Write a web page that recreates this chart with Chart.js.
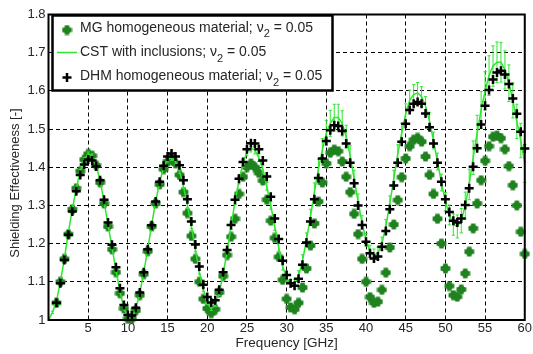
<!DOCTYPE html>
<html>
<head>
<meta charset="utf-8">
<script src="https://cdn.jsdelivr.net/npm/chart.js@4.4.1/dist/chart.umd.min.js"></script>
<style>
  html, body { margin: 0; padding: 0; background: #fff; }
  #wrap { width: 533px; height: 354px; }
</style>
</head>
<body>
<div id="wrap"><canvas id="chart" width="533" height="354"></canvas></div>
<script>
// frequency grid [GHz]
const freq = [
  0, 0.5, 1, 1.5, 2, 2.5, 3, 3.5, 4, 4.5, 5, 5.5, 6, 6.5, 7, 7.5, 8, 8.5, 9, 9.5, 10,
  10.5, 11, 11.5, 12, 12.5, 13, 13.5, 14, 14.5, 15, 15.5, 16, 16.5, 17, 17.5, 18, 18.5, 19, 19.5, 20,
  20.5, 21, 21.5, 22, 22.5, 23, 23.5, 24, 24.5, 25, 25.5, 26, 26.5, 27, 27.5, 28, 28.5, 29, 29.5, 30,
  30.5, 31, 31.5, 32, 32.5, 33, 33.5, 34, 34.5, 35, 35.5, 36, 36.5, 37, 37.5, 38, 38.5, 39, 39.5, 40,
  40.5, 41, 41.5, 42, 42.5, 43, 43.5, 44, 44.5, 45, 45.5, 46, 46.5, 47, 47.5, 48, 48.5, 49, 49.5, 50,
  50.5, 51, 51.5, 52, 52.5, 53, 53.5, 54, 54.5, 55, 55.5, 56, 56.5, 57, 57.5, 58, 58.5, 59, 59.5, 60
];

// MG homogeneous material
const mgSE = [
  null, null, 1.045, 1.100, 1.160, 1.225, 1.290, 1.345, 1.390, 1.420, 1.435, 1.430, 1.405, 1.360, 1.305, 1.245, 1.185, 1.125, 1.070, 1.030, 1.003,
  1.003, 1.025, 1.065, 1.120, 1.180, 1.245, 1.305, 1.355, 1.395, 1.415, 1.420, 1.410, 1.380, 1.335, 1.280, 1.220, 1.160, 1.100, 1.055, 1.030,
  1.018, 1.028, 1.072, 1.115, 1.170, 1.218, 1.265, 1.330, 1.375, 1.400, 1.410, 1.400, 1.385, 1.365, 1.315, 1.260, 1.215, 1.165, 1.105, 1.055,
  1.033, 1.028, 1.045, 1.085, 1.135, 1.195, 1.253, 1.310, 1.360, 1.410, 1.438, 1.446, 1.442, 1.415, 1.375, 1.335, 1.278, 1.225, 1.160, 1.100,
  1.060, 1.045, 1.048, 1.079, 1.124, 1.190, 1.250, 1.314, 1.374, 1.423, 1.455, 1.472, 1.477, 1.467, 1.428, 1.380, 1.330, 1.265, 1.200, 1.135,
  1.089, 1.065, 1.061, 1.080, 1.122, 1.179, 1.240, 1.305, 1.366, 1.417, 1.455, 1.480, 1.483, 1.476, 1.447, 1.403, 1.353, 1.300, 1.231, 1.173
];

// CST with inclusions (mean and error)
const cstSE = [
  1.000, 1.020, 1.050, 1.100, 1.160, 1.230, 1.290, 1.345, 1.390, 1.420, 1.435, 1.430, 1.405, 1.365, 1.310, 1.250, 1.190, 1.130, 1.075, 1.030, 1.005,
  1.005, 1.030, 1.070, 1.125, 1.185, 1.250, 1.310, 1.360, 1.400, 1.420, 1.425, 1.415, 1.390, 1.350, 1.300, 1.245, 1.185, 1.125, 1.080, 1.045,
  1.030, 1.040, 1.070, 1.120, 1.180, 1.245, 1.310, 1.365, 1.410, 1.440, 1.450, 1.445, 1.425, 1.395, 1.350, 1.300, 1.245, 1.190, 1.140, 1.110,
  1.095, 1.095, 1.115, 1.155, 1.210, 1.270, 1.335, 1.395, 1.445, 1.490, 1.515, 1.530, 1.530, 1.515, 1.480, 1.430, 1.370, 1.310, 1.255, 1.210,
  1.180, 1.170, 1.175, 1.200, 1.245, 1.305, 1.370, 1.435, 1.490, 1.540, 1.575, 1.590, 1.595, 1.585, 1.560, 1.520, 1.470, 1.415, 1.360, 1.310,
  1.275, 1.250, 1.245, 1.260, 1.300, 1.355, 1.425, 1.490, 1.550, 1.600, 1.640, 1.665, 1.675, 1.675, 1.655, 1.620, 1.575, 1.520, 1.470, 1.410
];
const cstErr = [
  0, 0.003, 0.003, 0.003, 0.004, 0.004, 0.004, 0.004, 0.004, 0.005, 0.005, 0.005, 0.005, 0.004, 0.004, 0.004, 0.004, 0.004, 0.004, 0.003, 0.003,
  0.003, 0.004, 0.004, 0.005, 0.005, 0.006, 0.006, 0.006, 0.006, 0.006, 0.007, 0.007, 0.006, 0.006, 0.006, 0.006, 0.006, 0.005, 0.005, 0.005,
  0.005, 0.005, 0.006, 0.006, 0.007, 0.008, 0.008, 0.009, 0.010, 0.010, 0.010, 0.010, 0.010, 0.010, 0.010, 0.010, 0.010, 0.010, 0.009, 0.009,
  0.010, 0.012, 0.014, 0.016, 0.018, 0.020, 0.024, 0.026, 0.030, 0.032, 0.034, 0.035, 0.035, 0.033, 0.030, 0.026, 0.022, 0.020, 0.018, 0.017,
  0.016, 0.016, 0.016, 0.017, 0.018, 0.020, 0.022, 0.024, 0.025, 0.026, 0.027, 0.027, 0.027, 0.026, 0.025, 0.024, 0.022, 0.022, 0.022, 0.024,
  0.026, 0.028, 0.030, 0.032, 0.035, 0.040, 0.044, 0.046, 0.048, 0.050, 0.052, 0.053, 0.053, 0.052, 0.050, 0.048, 0.046, 0.045, 0.045, 0.050
];

// DHM homogeneous material
const dhmSE = [
  null, null, 1.045, 1.096, 1.157, 1.223, 1.284, 1.337, 1.380, 1.407, 1.420, 1.418, 1.402, 1.366, 1.315, 1.255, 1.197, 1.138, 1.083, 1.039, 1.013,
  1.012, 1.032, 1.072, 1.125, 1.185, 1.248, 1.310, 1.362, 1.404, 1.428, 1.436, 1.428, 1.405, 1.366, 1.316, 1.258, 1.198, 1.140, 1.092, 1.060,
  1.046, 1.052, 1.079, 1.125, 1.183, 1.249, 1.315, 1.370, 1.414, 1.447, 1.463, 1.462, 1.447, 1.418, 1.376, 1.323, 1.266, 1.212, 1.155, 1.118,
  1.096, 1.090, 1.108, 1.145, 1.203, 1.258, 1.316, 1.372, 1.423, 1.469, 1.497, 1.510, 1.508, 1.495, 1.462, 1.412, 1.358, 1.300, 1.249, 1.205,
  1.175, 1.161, 1.166, 1.192, 1.233, 1.290, 1.352, 1.412, 1.467, 1.514, 1.550, 1.566, 1.571, 1.566, 1.541, 1.505, 1.462, 1.412, 1.362, 1.316,
  1.283, 1.260, 1.255, 1.266, 1.301, 1.345, 1.401, 1.450, 1.512, 1.561, 1.602, 1.630, 1.648, 1.653, 1.643, 1.618, 1.580, 1.540, 1.493, 1.449
];

const legendNames = ['MG homogeneous material;', 'CST with inclusions;', 'DHM homogeneous material;'];
const nuValue = '0.05';
const yTitle = 'Shielding Effectiveness [-]';

const MG_COLOR = '#1f821f';
const CST_COLOR = '#2ee62e';
const FONT = '"Liberation Sans", Arial, sans-serif';
const TXT = '#262626';

function blobMarker(color) {
  const c = document.createElement('canvas');
  c.width = 11; c.height = 11;
  const g = c.getContext('2d');
  g.fillStyle = color;
  g.beginPath(); g.arc(5.5, 5.5, 3.8, 0, Math.PI * 2); g.fill();
  g.fillRect(3.3, 0.6, 4.4, 9.8);
  g.fillRect(0.6, 3.3, 9.8, 4.4);
  return c;
}
const mgMarker = blobMarker(MG_COLOR);

const toXY = arr => freq.map((f, i) => ({ x: f, y: arr[i] }));

const errorBars = {
  id: 'errorBars',
  afterDatasetDraw(chart, args) {
    if (args.index !== 1) return;
    const { ctx, scales: { x, y } } = chart;
    ctx.save();
    ctx.strokeStyle = CST_COLOR;
    ctx.lineWidth = 1;
    ctx.beginPath();
    freq.forEach((f, i) => {
      const e = cstErr[i];
      if (!e) return;
      const px = x.getPixelForValue(f);
      const t = y.getPixelForValue(cstSE[i] + e);
      const b = y.getPixelForValue(cstSE[i] - e);
      ctx.moveTo(px, t); ctx.lineTo(px, b);
      ctx.moveTo(px - 1.6, t); ctx.lineTo(px + 1.6, t);
      ctx.moveTo(px - 1.6, b); ctx.lineTo(px + 1.6, b);
    });
    ctx.stroke();
    ctx.restore();
  }
};

const frameAndLegend = {
  id: 'frameAndLegend',
  afterDraw(chart) {
    const { ctx, chartArea: a } = chart;
    ctx.save();
    ctx.strokeStyle = '#000';
    ctx.lineWidth = 2;
    ctx.strokeRect(a.left, a.top, a.right - a.left, a.bottom - a.top);

    // y axis title
    ctx.save();
    ctx.translate(15, 183);
    ctx.rotate(-Math.PI / 2);
    ctx.font = '13px ' + FONT;
    ctx.fillStyle = TXT;
    ctx.textAlign = 'center';
    ctx.textBaseline = 'middle';
    ctx.fillText(yTitle, 0, 0);
    ctx.restore();

    // legend box
    const bx = 52.5, by = 15.5, bw = 280, bh = 75;
    ctx.fillStyle = '#fff';
    ctx.fillRect(bx, by, bw, bh);
    ctx.lineWidth = 2.5;
    ctx.strokeStyle = '#000';
    ctx.strokeRect(bx, by, bw, bh);

    const rows = [28, 52.5, 76.5];
    ctx.textBaseline = 'middle';
    rows.forEach((ry, i) => {
      if (i === 0) {
        ctx.drawImage(mgMarker, 67 - 5.5, ry + 2 - 5.5);
      } else if (i === 1) {
        ctx.strokeStyle = CST_COLOR; ctx.lineWidth = 1.5;
        ctx.beginPath(); ctx.moveTo(57, ry); ctx.lineTo(77, ry); ctx.stroke();
      } else {
        ctx.strokeStyle = '#000'; ctx.lineWidth = 2.5;
        ctx.beginPath();
        ctx.moveTo(62.5, ry + 1); ctx.lineTo(71.5, ry + 1);
        ctx.moveTo(67, ry - 3.5); ctx.lineTo(67, ry + 5.5);
        ctx.stroke();
      }
      ctx.fillStyle = TXT;
      ctx.font = '14px ' + FONT;
      let tx = 80;
      const main = legendNames[i] + ' \u03bd';
      ctx.fillText(main, tx, ry);
      tx += ctx.measureText(main).width;
      ctx.font = '11px ' + FONT;
      ctx.fillText('2', tx, ry + 6);
      tx += ctx.measureText('2').width;
      ctx.font = '14px ' + FONT;
      ctx.fillText(' = ' + nuValue, tx, ry);
    });
    ctx.restore();
  }
};

new Chart(document.getElementById('chart'), {
  type: 'line',
  data: {
    datasets: [
      {
        label: legendNames[0],
        data: toXY(mgSE),
        showLine: false,
        pointStyle: mgMarker,
        pointRadius: 5,
        order: 3,
        clip: false
      },
      {
        label: legendNames[1],
        data: toXY(cstSE),
        borderColor: CST_COLOR,
        borderWidth: 1.5,
        pointRadius: 0,
        tension: 0,
        order: 2,
        clip: false
      },
      {
        label: legendNames[2],
        data: toXY(dhmSE),
        showLine: false,
        pointStyle: 'cross',
        pointRadius: 4.5,
        pointBorderWidth: 2.5,
        pointBorderColor: '#000',
        pointBackgroundColor: '#000',
        order: 1,
        clip: false
      }
    ]
  },
  options: {
    responsive: false,
    animation: false,
    devicePixelRatio: 1,
    layout: { padding: { top: 14.5, right: 7, left: 0, bottom: 0 } },
    plugins: { legend: { display: false }, tooltip: { enabled: false } },
    scales: {
      x: {
        type: 'linear',
        min: 0, max: 60,
        afterFit: s => { s.height = 34; },
        ticks: {
          stepSize: 5,
          padding: 1,
          color: TXT,
          font: { family: FONT, size: 13 },
          maxRotation: 0,
          callback: v => (v === 0 ? '' : v)
        },
        grid: { color: '#000', lineWidth: 1, drawTicks: false },
        border: { display: false, dash: [4, 3] },
        title: {
          display: true,
          text: 'Frequency [GHz]',
          color: TXT,
          font: { family: FONT, size: 13.5 },
          padding: { top: 0, bottom: 3 }
        }
      },
      y: {
        min: 1, max: 1.8,
        afterFit: s => { s.width = 48.5; },
        ticks: {
          stepSize: 0.1,
          padding: 3,
          color: TXT,
          font: { family: FONT, size: 13 },
          callback: v => String(Math.round(v * 10) / 10)
        },
        grid: { color: '#000', lineWidth: 1, drawTicks: false },
        border: { display: false, dash: [4, 3] }
      }
    }
  },
  plugins: [errorBars, frameAndLegend]
});
</script>
</body>
</html>
